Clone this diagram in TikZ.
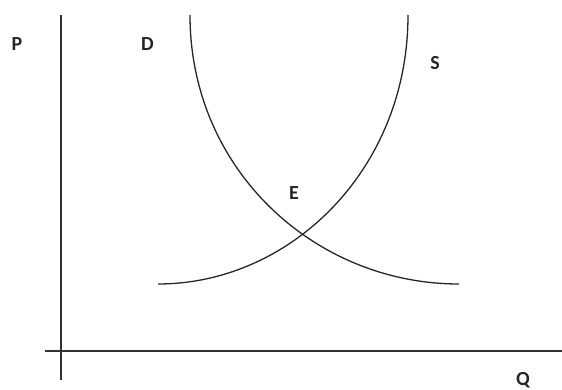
\documentclass[tikz,border=0pt]{standalone}
\usepackage{fontspec}
\setmainfont{Carlito}
\begin{document}
\begin{tikzpicture}[x=1pt,y=-1pt,
  axis/.style={line width=1.4pt,draw=black!80},
  curve/.style={line width=1.3pt,draw=black!85},
  lbl/.style={font=\fontsize{20}{24}\selectfont\bfseries,text=black!85,inner sep=0pt,anchor=center}]
\useasboundingbox (0,0) rectangle (562,390);
% axes
\coordinate (ytop) at (61,15);
\coordinate (ybot) at (61,380);
\coordinate (xl) at (45,351);
\coordinate (xr) at (562,351);
\draw[axis] (ytop) -- (ybot);
\draw[axis] (xl) -- (xr);
% demand
\coordinate (dtop) at (190,15);
\coordinate (dend) at (459,284);
\draw[curve] (dtop) .. controls (190,170) and (315,284) .. (dend);
% supply
\coordinate (sstart) at (158,284);
\coordinate (stop) at (408,15);
\draw[curve] (sstart) .. controls (290,284) and (408,170) .. (stop);
% labels
\node[lbl] (P) at (17,44) {P};
\node[lbl] (D) at (147.5,44) {D};
\node[lbl] (S) at (435,63) {S};
\node[lbl] (E) at (294,193) {E};
\node[lbl] (Q) at (523,380) {Q};
\end{tikzpicture}
\end{document}
